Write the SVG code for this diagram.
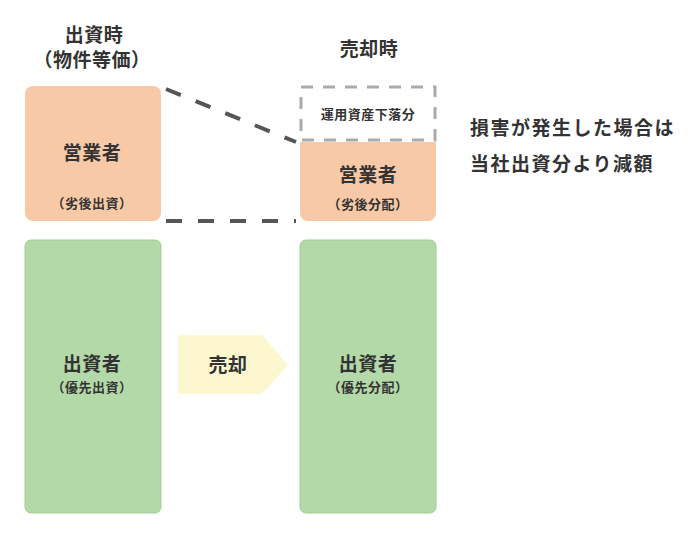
<svg xmlns="http://www.w3.org/2000/svg" width="698" height="533" viewBox="0 0 698 533">
<style>
text{font-family:"Noto Sans CJK JP","Noto Sans CJK SC",sans-serif;fill:#333;font-weight:bold;text-anchor:middle}
.o{fill:#F8C9A7}.g{fill:#B3D9A9;stroke:#A3CC98;stroke-width:1}
.t{font-size:19px;letter-spacing:0.5px}.s{font-size:13px;letter-spacing:0.5px}
</style>
<rect width="698" height="533" fill="#fff"/>
<text class="t" x="94" y="42">出資時</text>
<text class="t" x="92" y="67">（物件等価）</text>
<text class="t" x="369" y="56">売却時</text>
<g id="left-op"><rect class="o" x="25" y="86" width="136" height="135" rx="8"/>
<text class="t" x="92" y="160">営業者</text><text class="s" x="92" y="208">（劣後出資）</text></g>
<g id="left-inv"><rect class="g" x="25" y="240" width="136" height="273" rx="6"/>
<text class="t" x="92" y="371">出資者</text><text class="s" x="92" y="392">（優先出資）</text></g>
<g id="loss"><rect x="301" y="87" width="134" height="53" fill="none" stroke="#aaa" stroke-width="3" stroke-dasharray="12,10"/>
<text class="s" x="368" y="119">運用資産下落分</text></g>
<g id="right-op"><path class="o" d="M300 142H436V213a8 8 0 0 1-8 8H308a8 8 0 0 1-8-8Z"/>
<text class="t" x="368" y="182">営業者</text><text class="s" x="368" y="209">（劣後分配）</text></g>
<g id="right-inv"><rect class="g" x="300" y="240" width="136" height="273" rx="6"/>
<text class="t" x="368" y="371">出資者</text><text class="s" x="368" y="392">（優先分配）</text></g>
<g id="sell"><path d="M181 335H262L288 365L262 394H181a3 3 0 0 1-3-3V338a3 3 0 0 1 3-3Z" fill="#FCF7CF"/>
<text class="t" x="228" y="372">売却</text></g>
<g id="connectors" stroke="#555" stroke-width="4" stroke-dasharray="16,16" fill="none">
<path d="M166 89L296 142"/><path d="M166 221H296"/></g>
<text class="t" x="470" y="135" style="text-anchor:start;letter-spacing:1.5px">損害が発生した場合は</text>
<text class="t" x="470" y="171" style="text-anchor:start;letter-spacing:1.5px">当社出資分より減額</text>
</svg>
